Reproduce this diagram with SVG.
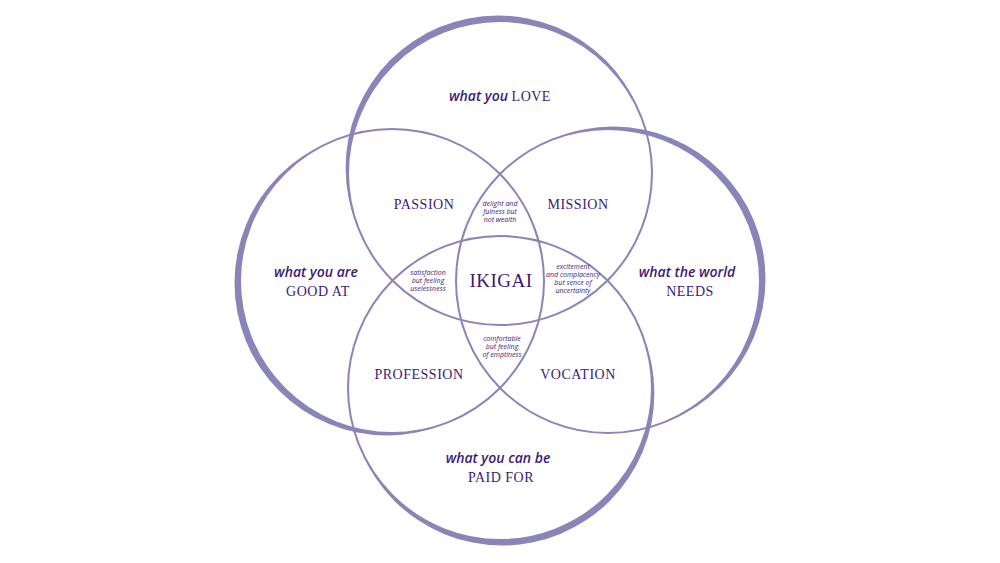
<svg xmlns="http://www.w3.org/2000/svg" width="1000" height="563" viewBox="0 0 1000 563">
<style>
.ring{fill:none;stroke:#8a85b8;stroke-width:2}
.cres{fill:#8a85b8}
.hand{font-family:"Open Sans","DejaVu Sans",sans-serif;font-style:italic;font-weight:600;fill:#3d1a78;text-anchor:middle}
.cap{font-family:"Liberation Serif","DejaVu Serif",serif;fill:#3d1a78;text-anchor:middle;letter-spacing:0.5px}
.small{font-family:"Open Sans","DejaVu Sans",sans-serif;font-style:italic;fill:#3d1a78;text-anchor:middle;font-size:7px}
</style>
<defs>
<mask id="mT"><rect width="1000" height="563" fill="#fff"/><circle cx="500" cy="173" r="152" fill="#000"/></mask>
<mask id="mR"><rect width="1000" height="563" fill="#fff"/><circle cx="608" cy="281" r="152" fill="#000"/></mask>
<mask id="mB"><rect width="1000" height="563" fill="#fff"/><circle cx="500" cy="388" r="152" fill="#000"/></mask>
<mask id="mL"><rect width="1000" height="563" fill="#fff"/><circle cx="392" cy="281" r="152" fill="#000"/></mask>
</defs>
<rect width="1000" height="563" fill="#fff"/>
<g id="circle-love">
<circle class="cres" cx="497.9" cy="167.8" r="152.3" mask="url(#mT)"/>
<circle class="ring" cx="500" cy="173" r="152"/>
<text class="hand" x="500" y="101" font-size="14">what you <tspan class="cap" font-style="normal" font-weight="normal" font-size="14">LOVE</tspan></text>
</g>
<g id="circle-world">
<circle class="cres" cx="613.2" cy="278.9" r="152.3" mask="url(#mR)"/>
<circle class="ring" cx="608" cy="281" r="152"/>
<text class="hand" x="687" y="277" font-size="14">what the world</text>
<text class="cap" x="690" y="296" font-size="14">NEEDS</text>
</g>
<g id="circle-paid">
<circle class="cres" cx="502.1" cy="393.2" r="152.3" mask="url(#mB)"/>
<circle class="ring" cx="500" cy="388" r="152"/>
<text class="hand" x="498" y="463" font-size="14">what you can be</text>
<text class="cap" x="501" y="482" font-size="14">PAID FOR</text>
</g>
<g id="circle-good">
<circle class="cres" cx="386.8" cy="283.1" r="152.3" mask="url(#mL)"/>
<circle class="ring" cx="392" cy="281" r="152"/>
<text class="hand" x="316" y="277" font-size="14">what you are</text>
<text class="cap" x="318" y="296" font-size="14">GOOD AT</text>
</g>
<g id="connectors"></g>
<g id="passion"><text class="cap" x="424" y="209" font-size="14">PASSION</text></g>
<g id="mission"><text class="cap" x="578" y="209" font-size="14">MISSION</text></g>
<g id="profession"><text class="cap" x="419" y="379" font-size="14">PROFESSION</text></g>
<g id="vocation"><text class="cap" x="578" y="379" font-size="14">VOCATION</text></g>
<g id="ikigai"><text class="cap" x="501" y="287" font-size="19">IKIGAI</text></g>
<g id="delight">
<text class="small" x="500" y="206">delight and</text>
<text class="small" x="500" y="214">fulness but</text>
<text class="small" x="500" y="222">not wealth</text>
</g>
<g id="satisfaction">
<text class="small" x="428" y="275">satisfaction</text>
<text class="small" x="428" y="283">but feeling</text>
<text class="small" x="428" y="291">uselessness</text>
</g>
<g id="excitement">
<text class="small" x="573" y="269">excitement</text>
<text class="small" x="573" y="277">and complacency</text>
<text class="small" x="573" y="285">but sence of</text>
<text class="small" x="573" y="293">uncertainty</text>
</g>
<g id="comfortable">
<text class="small" x="502" y="341">comfortable</text>
<text class="small" x="502" y="349">but feeling</text>
<text class="small" x="502" y="357">of emptiness</text>
</g>
</svg>
